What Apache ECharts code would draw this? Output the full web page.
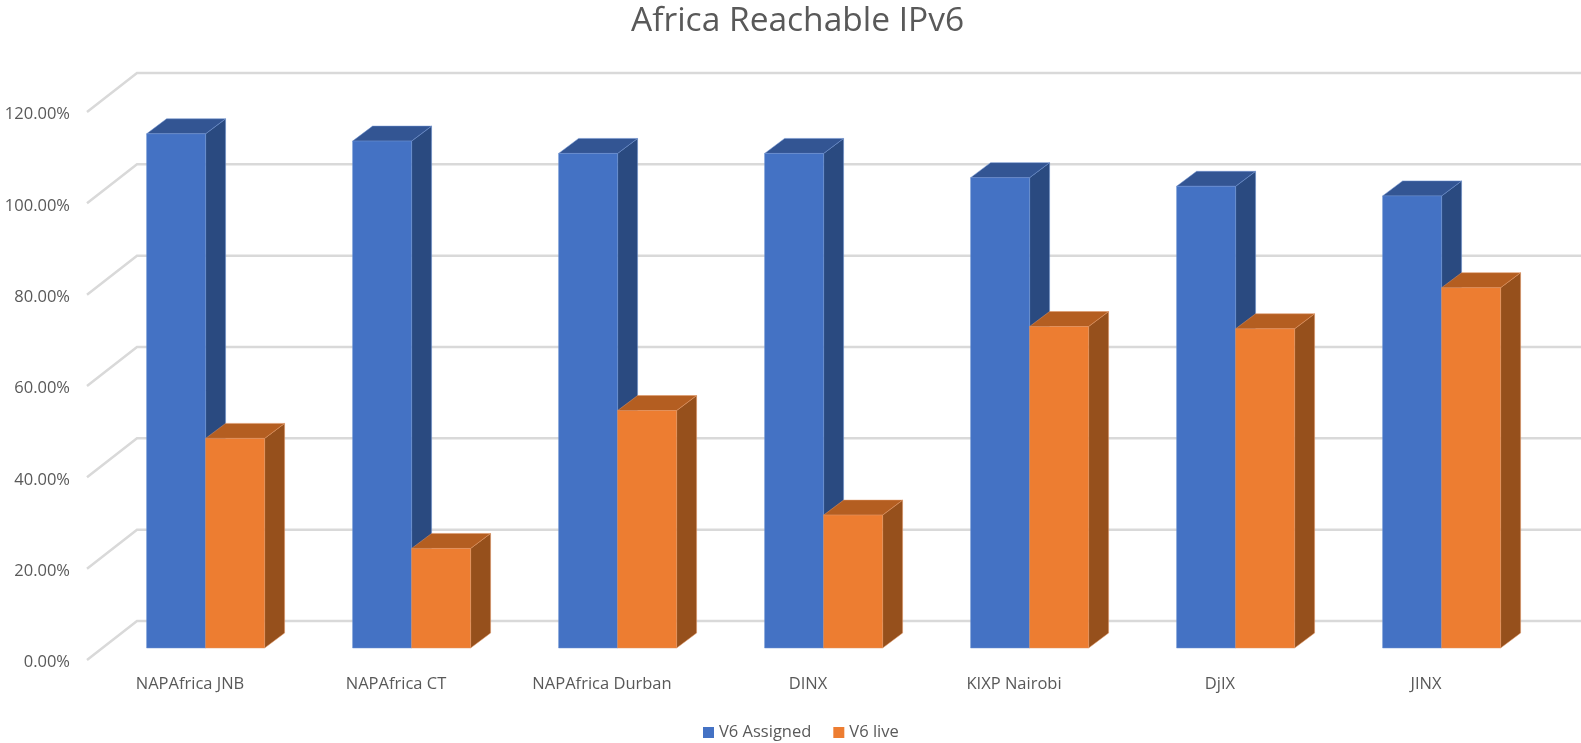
<!DOCTYPE html>
<html>
<head>
<meta charset="utf-8">
<title>Africa Reachable IPv6</title>
<script src="https://cdn.jsdelivr.net/npm/echarts@6/dist/echarts.min.js"></script>
<style>
  html, body { margin: 0; padding: 0; background: #fff; }
  #chart { width: 1581px; height: 743px; }
</style>
</head>
<body>
<div id="chart"></div>
<script>
var categories = ['NAPAfrica JNB', 'NAPAfrica CT', 'NAPAfrica Durban', 'DINX', 'KIXP Nairobi', 'DjIX', 'JINX'];
var assigned = [1.126, 1.110, 1.083, 1.083, 1.030, 1.011, 0.990];
var live = [0.459, 0.218, 0.520, 0.291, 0.704, 0.699, 0.789];
var ticks = [0, 0.2, 0.4, 0.6, 0.8, 1.0, 1.2];

var textColor = '#595959';
var fontName = '"Open Sans", sans-serif';

// faux 3D: pixel shift of the back wall, bar front and bar depth
var wall = [50, -39];
var inset = [15.6, -12];
var depth = [20, -15];
var barWidth = 59;

function shift(p, d) {
  return [p[0] + d[0], p[1] + d[1]];
}

function poly(points, fill, stroke) {
  return {
    type: 'polygon',
    shape: { points: points },
    style: { fill: fill, stroke: stroke, lineWidth: 1 }
  };
}

// one box, side is -1 for the left bar of a pair and 0 for the right one
function barRenderer(side, front, top, right, edge) {
  return function (params, api) {
    var base = shift(api.coord([api.value(0), 0]), inset);
    var head = shift(api.coord([api.value(0), api.value(1)]), inset);
    var x0 = base[0] + side * barWidth;
    var x1 = x0 + barWidth;
    var bl = [x0, base[1]], br = [x1, base[1]];
    var tl = [x0, head[1]], tr = [x1, head[1]];
    return {
      type: 'group',
      children: [
        poly([br, tr, shift(tr, depth), shift(br, depth)], right, edge),
        poly([tl, tr, shift(tr, depth), shift(tl, depth)], top, edge),
        poly([bl, br, tr, tl], front, edge)
      ]
    };
  };
}

// gridline: short diagonal from the axis, then along the back wall
function wallRenderer(params, api) {
  var rect = params.coordSys;
  var y = api.coord([0, api.value(1)])[1];
  var a = [rect.x, y];
  var b = shift(a, wall);
  return {
    type: 'polyline',
    shape: { points: [a, b, [rect.x + rect.width + wall[0] + 5, b[1]]] },
    style: { fill: null, stroke: '#d9d9d9', lineWidth: 2.5 }
  };
}

var myChart = echarts.init(document.getElementById('chart'), null, { renderer: 'canvas' });
myChart.setOption({
  animation: false,
  title: {
    text: 'Africa Reachable IPv6',
    left: 626,
    top: -1,
    textStyle: { color: textColor, fontFamily: fontName, fontSize: 33.5, fontWeight: 'normal' }
  },
  legend: {
    data: ['V6 Assigned', 'V6 live'],
    bottom: -3,
    left: 698,
    icon: 'rect',
    itemWidth: 11,
    itemHeight: 11,
    itemGap: 22,
    textStyle: { color: textColor, fontFamily: fontName, fontSize: 16.5 }
  },
  grid: { left: 87, top: 112, width: 1442, height: 548 },
  xAxis: {
    type: 'category',
    data: categories,
    axisLine: { show: false },
    axisTick: { show: false },
    axisLabel: { color: textColor, fontFamily: fontName, fontSize: 16.5, margin: 16, interval: 0 }
  },
  yAxis: {
    type: 'value',
    min: 0,
    max: 1.2,
    interval: 0.2,
    axisLine: { show: false },
    axisTick: { show: false },
    splitLine: { show: false },
    axisLabel: {
      color: textColor,
      fontFamily: fontName,
      fontSize: 16.5,
      margin: 17,
      verticalAlign: 'top',
      lineHeight: 5,
      formatter: function (v) { return (v * 100).toFixed(2) + '%'; }
    }
  },
  series: [
    {
      name: 'grid wall',
      type: 'custom',
      silent: true,
      renderItem: wallRenderer,
      encode: { x: 0, y: 1 },
      data: ticks.map(function (t) { return [0, t]; })
    },
    {
      name: 'V6 Assigned',
      type: 'custom',
      itemStyle: { color: '#4472c4' },
      renderItem: barRenderer(-1, '#4472c4', '#335593', '#2a4a80', 'rgba(110,145,210,0.5)'),
      encode: { x: 0, y: 1 },
      data: assigned.map(function (v, i) { return [i, v]; })
    },
    {
      name: 'V6 live',
      type: 'custom',
      itemStyle: { color: '#ed7d31' },
      renderItem: barRenderer(0, '#ed7d31', '#b45e21', '#96501c', 'rgba(225,150,100,0.5)'),
      encode: { x: 0, y: 1 },
      data: live.map(function (v, i) { return [i, v]; })
    }
  ]
});
</script>
</body>
</html>
